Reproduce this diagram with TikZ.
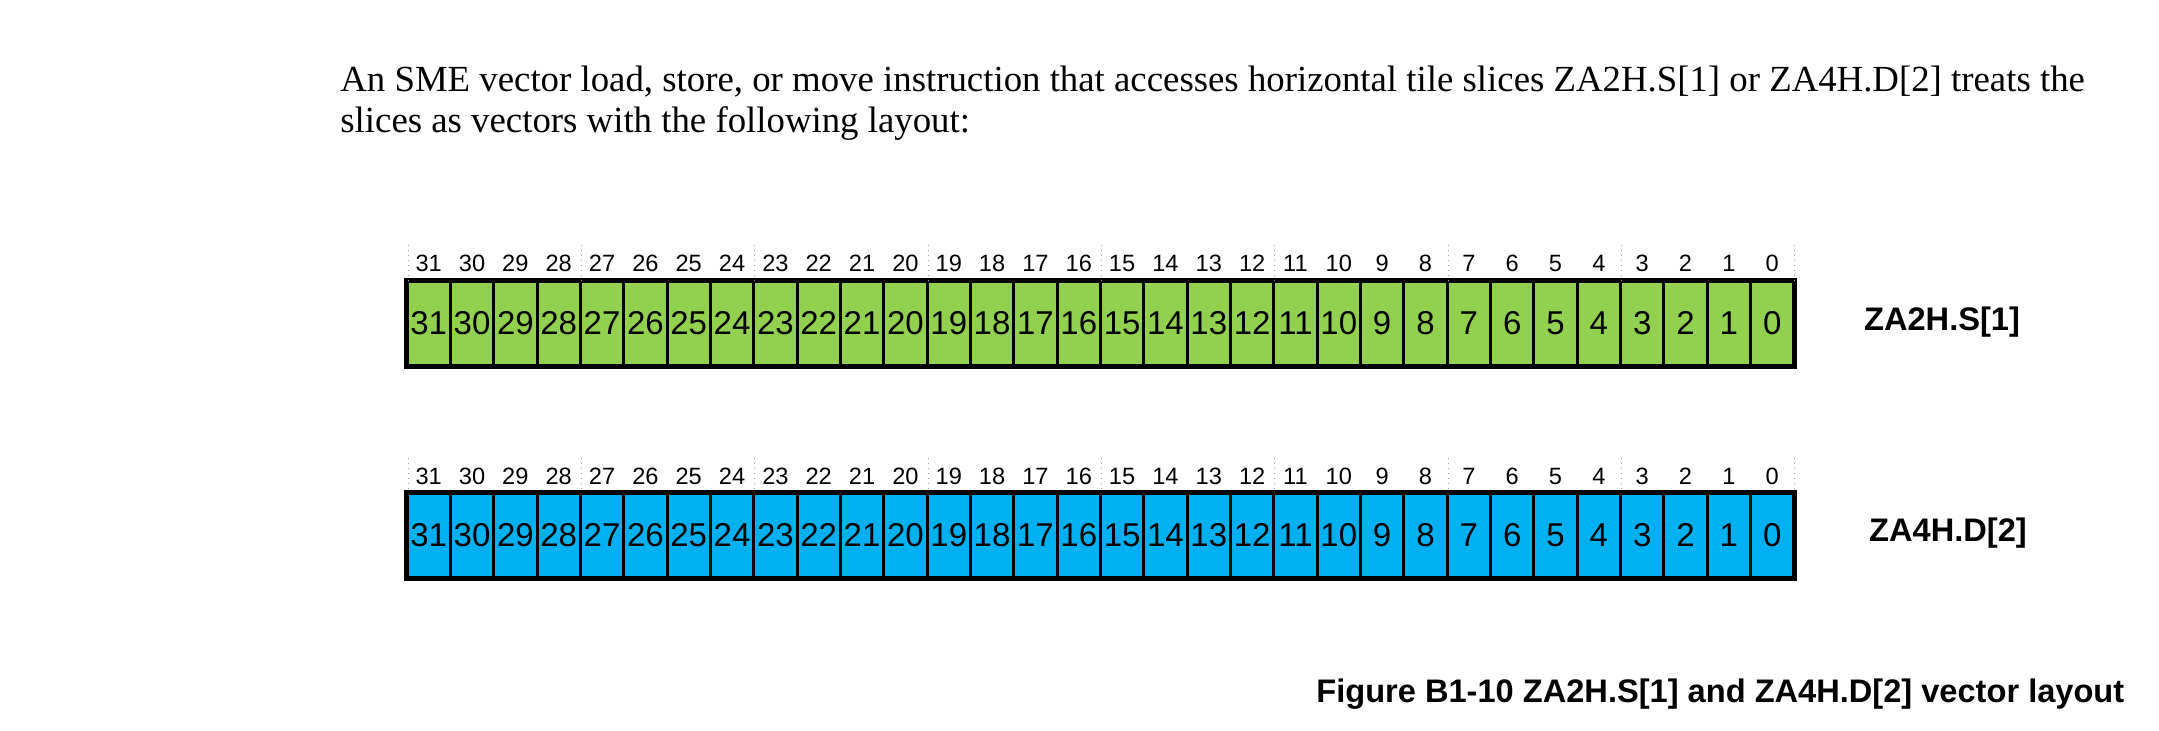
\documentclass[tikz,border=0pt]{standalone}
\usepackage{fontspec}
\setmainfont{Liberation Serif}
\newfontfamily\arial{Liberation Sans}
\definecolor{cgreen}{HTML}{92D050}
\definecolor{cblue}{HTML}{00B0F0}
\tikzset{
  cell/.style={draw=black, line width=1.5pt, minimum width=21.67pt, minimum height=42pt, inner sep=0pt, font=\arial\fontsize{16.5}{16.5}\selectfont},
  bitlbl/.style={inner sep=0pt, font=\arial\fontsize{11.8}{11.8}\selectfont},
  reglbl/.style={inner sep=0pt, font=\arial\bfseries\fontsize{16.3}{16.3}\selectfont},
  para/.style={inner sep=0pt, anchor=base west, font=\fontsize{18.4}{18.4}\selectfont},
  sep/.style={draw=gray!70, line width=0.5pt, dotted},
  frame/.style={draw=black, line width=2pt}
}
\begin{document}
\begin{tikzpicture}[x=0.5pt,y=-0.5pt]
\useasboundingbox (0,0) rectangle (2159,730);
\node[para] (p1) at (340,91) {An SME vector load, store, or move instruction that accesses horizontal tile slices ZA2H.S[1] or ZA4H.D[2] treats the};
\node[para] (p2) at (340,132) {slices as vectors with the following layout:};
% row 1
\foreach \i in {0,...,31}{
  \pgfmathtruncatemacro{\n}{31-\i}
  \node[cell, fill=cgreen] (a\n) at ({407+43.34*(\i+0.5)},323) {\n};
  \node[bitlbl] (ta\n) at ({407+43.34*(\i+0.5)},263) {\n};
}
\draw[frame] (a31.north west) rectangle (a0.south east);
\foreach \k in {0,...,8}{
  \coordinate (da\k) at ({408+173.36*\k},245);
  \coordinate (db\k) at ({408+173.36*\k},281);
  \draw[sep] (da\k) -- (db\k);
}
\node[reglbl] (r1) at (1942,322) {ZA2H.S[1]};
% row 2
\foreach \i in {0,...,31}{
  \pgfmathtruncatemacro{\n}{31-\i}
  \node[cell, fill=cblue] (b\n) at ({407+43.34*(\i+0.5)},535) {\n};
  \node[bitlbl] (tb\n) at ({407+43.34*(\i+0.5)},476) {\n};
}
\draw[frame] (b31.north west) rectangle (b0.south east);
\foreach \k in {0,...,8}{
  \coordinate (ea\k) at ({408+173.36*\k},458);
  \coordinate (eb\k) at ({408+173.36*\k},493);
  \draw[sep] (ea\k) -- (eb\k);
}
\node[reglbl] (r2) at (1948,533) {ZA4H.D[2]};
% caption
\node[inner sep=0pt, anchor=base west, font=\arial\bfseries\fontsize{16.3}{16.3}\selectfont] (cap) at (1316,702) {Figure B1-10 ZA2H.S[1] and ZA4H.D[2] vector layout};
\end{tikzpicture}
\end{document}
